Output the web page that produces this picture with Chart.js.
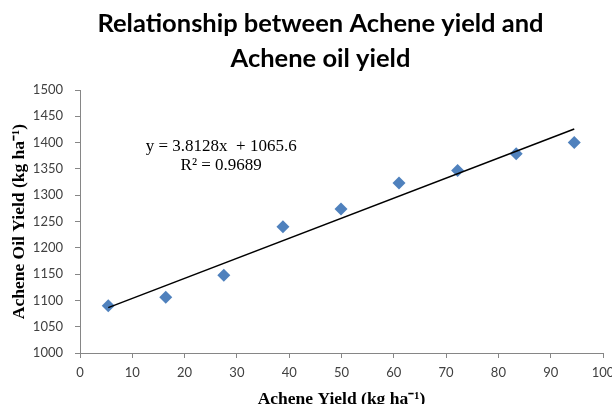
<!DOCTYPE html>
<html>
<head>
<meta charset="utf-8">
<script src="https://cdn.jsdelivr.net/npm/chart.js@4"></script>
<style>
  html, body { margin: 0; padding: 0; background: #ffffff; }
  #wrap { width: 612px; height: 404px; }
</style>
</head>
<body>
<div id="wrap"><canvas id="chart" width="612" height="404"></canvas></div>
<script>
// Achene yield (x) against achene oil yield (y)
const acheneYield = [5.4, 16.4, 27.5, 38.8, 49.9, 61.0, 72.2, 83.4, 94.5];
const oilYield    = [1090, 1106, 1148, 1240, 1274, 1323, 1347, 1379, 1400];

// Fitted linear trend, as reported on the chart
const trendSlope = 3.8128;
const trendIntercept = 1065.6;
const trendR2 = '0.9689';

const titleLines = ['Relationship between Achene yield and', 'Achene oil yield'];
const xAxisTitle = 'Achene Yield (kg ha\u207B\u00B9)';
const yAxisTitle = 'Achene Oil Yield (kg ha\u207B\u00B9)';
const equationLines = ['y = ' + trendSlope + 'x  + ' + trendIntercept, 'R\u00B2 = ' + trendR2];

const xMin = Math.min(...acheneYield);
const xMax = Math.max(...acheneYield);
const trendPoints = [xMin, xMax].map(x => ({ x: x, y: trendSlope * x + trendIntercept }));
const scatterPoints = acheneYield.map((x, i) => ({ x: x, y: oilYield[i] }));

const axisGrey = '#868686';
const tickFont = { family: 'Lato, "Liberation Sans", sans-serif', size: 13 };
const axisTitleFont = { family: '"Liberation Serif", "Times New Roman", serif', size: 17.5, weight: 'bold', lineHeight: 1 };

// Chart heading, two centred lines above the plot
const headingPlugin = {
  id: 'heading',
  afterDraw(chart) {
    const { ctx, chartArea } = chart;
    const cx = (chartArea.left + chartArea.right) / 2 - 21;
    ctx.save();
    ctx.fillStyle = '#000000';
    ctx.font = 'bold 25.5px Lato, "Liberation Sans", sans-serif';
    ctx.textAlign = 'center';
    ctx.textBaseline = 'middle';
    ctx.fillText(titleLines[0], cx, 24);
    ctx.fillText(titleLines[1], cx, 59);
    ctx.restore();
  }
};

// Trend equation and R² placed in data space
const equationPlugin = {
  id: 'equation',
  afterDatasetsDraw(chart) {
    const { ctx, scales } = chart;
    const x = scales.x.getPixelForValue(27);
    const y = scales.y.getPixelForValue(1393);
    ctx.save();
    ctx.fillStyle = '#000000';
    ctx.font = '17px "Liberation Serif", "Times New Roman", serif';
    ctx.textAlign = 'center';
    ctx.textBaseline = 'middle';
    ctx.fillText(equationLines[0], x, y);
    ctx.fillText(equationLines[1], x, y + 19);
    ctx.restore();
  }
};

new Chart(document.getElementById('chart'), {
  type: 'scatter',
  data: {
    datasets: [
      {
        type: 'line',
        label: 'Linear trend',
        data: trendPoints,
        borderColor: '#000000',
        borderWidth: 1.5,
        pointRadius: 0,
        fill: false,
        order: 0
      },
      {
        label: 'Achene oil yield',
        data: scatterPoints,
        pointStyle: 'rectRot',
        pointRadius: 6.5,
        pointHoverRadius: 6.5,
        backgroundColor: '#4F81BD',
        borderColor: '#4F81BD',
        borderWidth: 0,
        order: 1
      }
    ]
  },
  options: {
    responsive: false,
    animation: false,
    devicePixelRatio: 1,
    layout: { padding: { top: 90, right: 9, left: 0, bottom: 0 } },
    plugins: {
      legend: { display: false },
      tooltip: { enabled: false }
    },
    scales: {
      x: {
        type: 'linear',
        min: 0,
        max: 100,
        ticks: { stepSize: 10, color: '#404040', font: tickFont, padding: 7, callback: v => String(v) },
        grid: { display: true, drawOnChartArea: false, drawTicks: true, tickLength: 5, color: axisGrey },
        border: { color: axisGrey, width: 1 },
        title: { display: true, text: xAxisTitle, color: '#000000', font: axisTitleFont, padding: { top: 0, bottom: -4 } },
        afterFit(scale) { scale.height = 51; scale.paddingLeft = 0; scale.paddingRight = 0; }
      },
      y: {
        type: 'linear',
        min: 1000,
        max: 1500,
        ticks: { stepSize: 50, color: '#404040', font: tickFont, padding: 12, callback: v => String(v) },
        grid: { display: true, drawOnChartArea: false, drawTicks: true, tickLength: 5, color: axisGrey },
        border: { color: axisGrey, width: 1 },
        title: { display: true, text: yAxisTitle, color: '#000000', font: axisTitleFont, padding: { top: 11, bottom: 0 } },
        afterFit(scale) { scale.width = 80; scale.paddingTop = 0; scale.paddingBottom = 0; }
      }
    }
  },
  plugins: [headingPlugin, equationPlugin]
});
</script>
</body>
</html>
